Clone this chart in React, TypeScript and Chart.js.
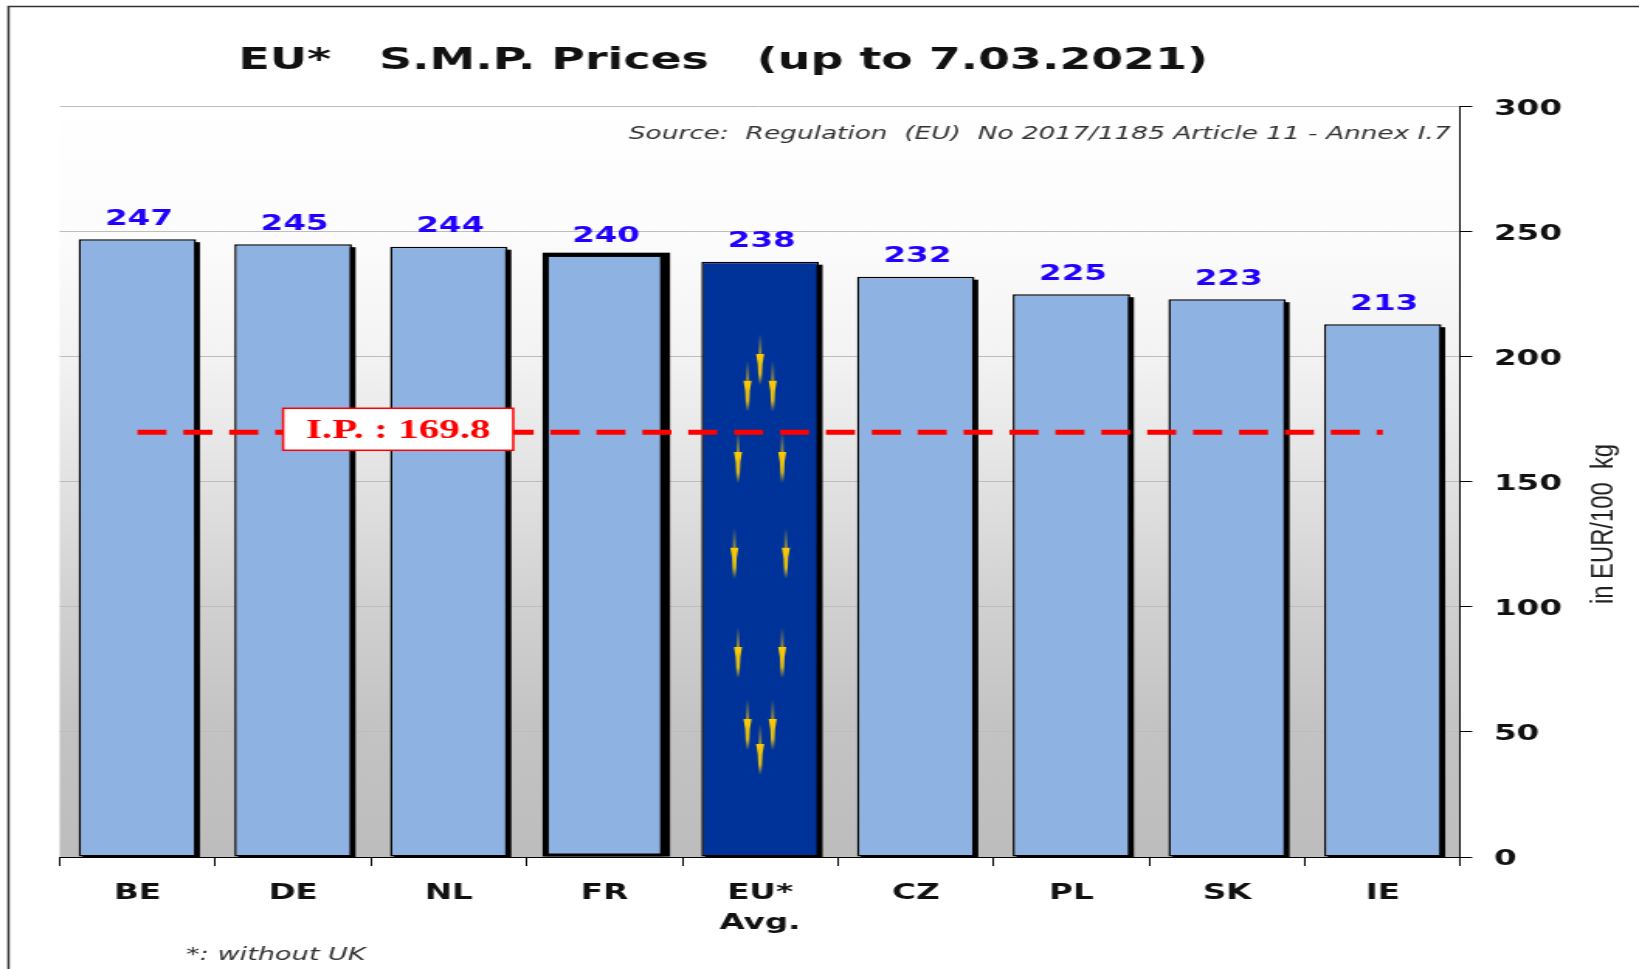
import React, { useEffect, useRef } from "react";
import { Chart, registerables } from "chart.js";

Chart.register(...registerables);

const categories = ["BE", "DE", "NL", "FR", ["EU*", "Avg."], "CZ", "PL", "SK", "IE"];
const prices = [247, 245, 244, 240, 238, 232, 225, 223, 213];
const interventionPrice = [169.8, 169.8, 169.8, 169.8, 169.8, 169.8, 169.8, 169.8, 169.8];
const barFill = ["#8eb2e2", "#8eb2e2", "#8eb2e2", "#8eb2e2", "#003399", "#8eb2e2", "#8eb2e2", "#8eb2e2", "#8eb2e2"];
const barBorderWidth: any[] = [1.5, 1.5, 1.5, { left: 2, right: 2, top: 0, bottom: 3 }, 1.5, 1.5, 1.5, 1.5, 1.5];
const highlightedBar = 3;
const flagBar = 4;
const starDx = [0, -0.107, 0.107, -0.188, 0.188, -0.219, 0.219, -0.188, 0.188, -0.107, 0.107, 0];
const starFy = [0.155, 0.2, 0.2, 0.32, 0.32, 0.481, 0.481, 0.648, 0.648, 0.769, 0.769, 0.811];

const titleText = "EU*   S.M.P. Prices   (up to 7.03.2021)";
const sourceText = "Source:  Regulation  (EU)  No 2017/1185 Article 11 - Annex I.7";
const footnoteText = "*: without UK";
const axisTitleText = "in EUR/100  kg";
const ipText = "I.P. : 169.8";

const STRETCH = 1.55;
const FULL_W = 1639;
const FULL_H = 969;
const W = Math.round(FULL_W / STRETCH);
const fx = (x: number) => x / STRETCH;
const PLOT_LEFT = fx(59.6);
const PLOT_RIGHT = fx(1460);
const PLOT_TOP = 106.6;
const PLOT_BOTTOM = 857;
const FONT = "'DejaVu Sans'";
const SHADOW = 2.4;

const decor = {
  id: "decor",
  beforeDraw(chart: any) {
    const { ctx, chartArea: a } = chart;
    ctx.save();
    ctx.fillStyle = "#fff";
    ctx.fillRect(0, 0, chart.width, chart.height);
    ctx.strokeStyle = "#333";
    ctx.lineWidth = 1.5;
    ctx.beginPath();
    ctx.moveTo(fx(8.5), chart.height);
    ctx.lineTo(fx(8.5), 6.5);
    ctx.lineTo(chart.width, 6.5);
    ctx.stroke();
    const g = ctx.createLinearGradient(0, a.top, 0, a.bottom);
    g.addColorStop(0, "#ffffff");
    g.addColorStop(0.17, "#fcfcfc");
    g.addColorStop(0.33, "#f3f3f3");
    g.addColorStop(0.5, "#e2e2e2");
    g.addColorStop(0.67, "#d0d0d0");
    g.addColorStop(0.83, "#c3c3c3");
    g.addColorStop(1, "#bdbdbd");
    ctx.fillStyle = g;
    ctx.fillRect(a.left, a.top, a.right - a.left, a.bottom - a.top);
    ctx.restore();
  },
  beforeDatasetDraw(chart: any, args: any) {
    if (args.index !== 0) return;
    const { ctx, chartArea: a } = chart;
    ctx.save();
    ctx.beginPath();
    ctx.rect(a.left, a.top, a.right - a.left, a.bottom - a.top);
    ctx.clip();
    ctx.fillStyle = "#000";
    chart.getDatasetMeta(0).data.forEach((b: any, i: number) => {
      if (i === highlightedBar) {
        ctx.fillRect(b.x - b.width / 2 - 2, b.y - 4, b.width + 4 + SHADOW, b.base - b.y + 4);
      } else {
        ctx.fillRect(b.x - b.width / 2 + SHADOW, b.y + 3, b.width, b.base - b.y);
      }
    });
    ctx.restore();
  },
  afterDatasetDraw(chart: any, args: any) {
    if (args.index !== 0) return;
    const { ctx } = chart;
    const b = chart.getDatasetMeta(0).data[flagBar];
    const h = b.base - b.y;
    ctx.save();
    starDx.forEach((dx, i) => {
      const x = b.x + dx * b.width;
      const y = b.y + starFy[i] * h;
      const up = ctx.createLinearGradient(0, y - 20, 0, y);
      up.addColorStop(0, "rgba(255,204,0,0)");
      up.addColorStop(1, "rgba(255,204,0,0.6)");
      ctx.fillStyle = up;
      ctx.fillRect(x - 1, y - 20, 2, 20);
      const dn = ctx.createLinearGradient(0, y, 0, y + 31);
      dn.addColorStop(0, "#ffcc00");
      dn.addColorStop(0.65, "rgba(240,200,10,0.9)");
      dn.addColorStop(1, "rgba(255,204,0,0)");
      ctx.fillStyle = dn;
      ctx.beginPath();
      ctx.moveTo(x - 2.6, y);
      ctx.lineTo(x + 2.6, y);
      ctx.lineTo(x + 1.5, y + 10);
      ctx.lineTo(x + 0.9, y + 31);
      ctx.lineTo(x - 0.9, y + 31);
      ctx.lineTo(x - 1.5, y + 10);
      ctx.closePath();
      ctx.fill();
    });
    ctx.restore();
  },
  afterDatasetsDraw(chart: any) {
    const { ctx } = chart;
    ctx.save();
    ctx.textBaseline = "middle";
    // value labels
    ctx.font = `bold 21px ${FONT}`;
    ctx.fillStyle = "#2200ff";
    ctx.textAlign = "center";
    chart.getDatasetMeta(0).data.forEach((b: any, i: number) => {
      ctx.fillText(String(prices[i]), b.x + 1, b.y - 20);
    });
    // intervention price box
    const yIp = chart.scales.y.getPixelForValue(interventionPrice[0]);
    const bx = fx(283), bw = fx(513) - fx(283), by = yIp - 24, bh = 42;
    ctx.fillStyle = "#fff";
    ctx.fillRect(bx, by, bw, bh);
    ctx.strokeStyle = "#ff0000";
    ctx.lineWidth = 1.5;
    ctx.strokeRect(bx, by, bw, bh);
    ctx.fillStyle = "#ff0000";
    ctx.font = "bold 26.5px 'Liberation Serif'";
    ctx.fillText(ipText, bx + bw / 2, by + bh / 2 + 2);
    // title
    ctx.fillStyle = "#111";
    ctx.font = `bold 29.6px ${FONT}`;
    ctx.fillText(titleText, fx(723), 61);
    // source
    ctx.fillStyle = "#333";
    ctx.textAlign = "right";
    ctx.font = `italic 17px ${FONT}`;
    ctx.fillText(sourceText, fx(1450), 135);
    // footnote
    ctx.textAlign = "left";
    ctx.font = `italic 17.5px ${FONT}`;
    ctx.fillText(footnoteText, fx(186), 955);
    // axis title
    ctx.translate(fx(1604), 524);
    ctx.rotate(-Math.PI / 2);
    ctx.scale(1.19, 1);
    ctx.textAlign = "center";
    ctx.fillStyle = "#222";
    ctx.font = "20px 'Liberation Sans'";
    ctx.fillText(axisTitleText, 0, 0);
    ctx.restore();
  },
};

export default function App() {
  const ref = useRef<HTMLCanvasElement | null>(null);
  useEffect(() => {
    const canvas = ref.current!;
    const chart = new Chart(canvas, {
      type: "bar",
      data: {
        labels: categories as any,
        datasets: [
          {
            type: "bar",
            data: prices,
            backgroundColor: barFill,
            borderColor: "#000",
            borderWidth: barBorderWidth,
            borderSkipped: false,
            categoryPercentage: 1,
            barPercentage: 0.755,
            order: 2,
          },
          {
            type: "line",
            data: interventionPrice,
            borderColor: "#ff0000",
            borderWidth: 5,
            borderDash: [18.7, 10.9],
            pointRadius: 0,
            fill: false,
            order: 1,
          },
        ] as any,
      },
      options: {
        responsive: false,
        animation: false,
        devicePixelRatio: 1,
        layout: { padding: { left: PLOT_LEFT, top: PLOT_TOP, right: 0, bottom: 0 } },
        plugins: { legend: { display: false }, tooltip: { enabled: false }, title: { display: false } },
        scales: {
          x: {
            offset: true,
            grid: { offset: true, drawOnChartArea: false, tickLength: 9, tickColor: "#000", tickWidth: 1 },
            border: { color: "#000", width: 1 },
            ticks: {
              autoSkip: false,
              maxRotation: 0,
              minRotation: 0,
              padding: 12,
              color: "#111",
              font: { family: "DejaVu Sans", weight: "bold", size: 21, lineHeight: 1.45 },
            },
            afterFit(s: any) { s.height = FULL_H - PLOT_BOTTOM; },
          },
          y: {
            position: "right",
            min: 0,
            max: 300,
            grid: { color: "#bdbdbd", lineWidth: 1, tickLength: 7.5, tickColor: "#000", tickWidth: 1 },
            border: { color: "#000", width: 1 },
            ticks: {
              stepSize: 50,
              padding: 14,
              color: "#111",
              callback: (v: any) => ["", String(v)],
              font: { family: "DejaVu Sans", weight: "bold", size: 21, lineHeight: "6px" },
            },
            afterFit(s: any) { s.width = W - PLOT_RIGHT; },
          },
        },
      },
      plugins: [decor],
    } as any);
    canvas.style.width = FULL_W + "px";
    canvas.style.height = FULL_H + "px";
    canvas.style.filter = "blur(0.6px)";
    return () => chart.destroy();
  }, []);
  return (
    <div style={{ position: "fixed", left: 0, top: 0, width: FULL_W, height: FULL_H, overflow: "hidden", background: "#fff" }}>
      <canvas ref={ref} width={W} height={FULL_H} style={{ display: "block" }} />
    </div>
  );
}
